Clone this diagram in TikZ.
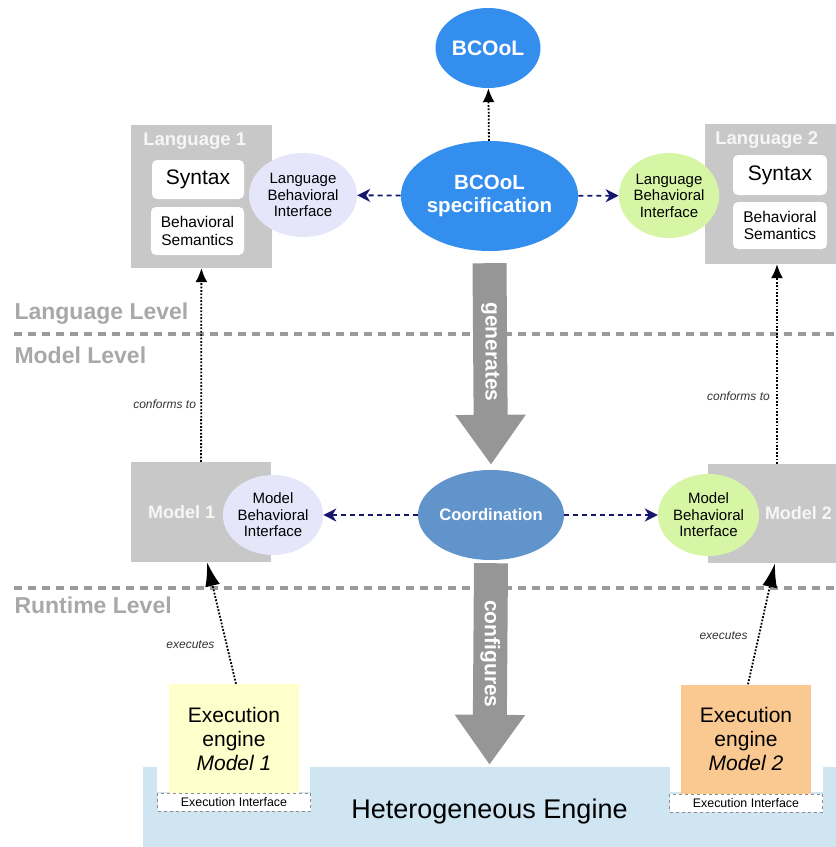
\documentclass[tikz,border=0pt]{standalone}
\usepackage{fontspec}
\setmainfont{Liberation Sans}
\usepackage{tikz}
\usetikzlibrary{positioning,shapes.geometric,arrows.meta}

\definecolor{boxgray}{RGB}{200,200,200}
\definecolor{titlegray}{RGB}{246,246,246}
\definecolor{levelgray}{RGB}{168,168,168}
\definecolor{linegray}{RGB}{155,155,155}
\definecolor{arrowgray}{RGB}{150,150,150}
\definecolor{lavender}{RGB}{230,230,250}
\definecolor{lightgreen}{RGB}{214,246,166}
\definecolor{bcoolblue}{RGB}{52,142,238}
\definecolor{coordblue}{RGB}{98,148,204}
\definecolor{navy}{RGB}{22,22,110}
\definecolor{engyellow}{RGB}{255,255,204}
\definecolor{engorange}{RGB}{250,200,145}
\definecolor{heteroblue}{RGB}{207,229,242}

\begin{document}
\begin{tikzpicture}[x=1pt, y=-1pt,
    graybox/.style={rectangle, fill=boxgray, inner sep=0pt},
    boxtitle/.style={text=titlegray, font=\fontsize{18.5}{20}\selectfont\bfseries},
    whitebox/.style={rectangle, fill=white, rounded corners=5pt, align=center, inner sep=0pt},
    oval/.style={ellipse, inner sep=0pt, align=center},
    ovaltext/.style={font=\fontsize{15}{16.5}\selectfont},
    bluedash/.style={-{Stealth[length=13pt,width=13pt,inset=4pt]}, navy, line width=1.8pt, dash pattern=on 5pt off 4pt},
    dotarrow/.style={-{Latex[length=14pt,width=12pt]}, black, line width=1.8pt, dash pattern=on 1.8pt off 1.6pt},
    exearrow/.style={dotarrow, -{Latex[length=24pt,width=15pt]}},
    bigarrow/.style={-{Triangle[width=67pt,length=50pt]}, arrowgray, line width=34pt},
    bigtext/.style={rotate=-90, text=white, font=\fontsize{21}{24}\selectfont\bfseries},
    leveltext/.style={anchor=west, text=levelgray, font=\fontsize{23}{26}\selectfont\bfseries},
    levelline/.style={linegray, line width=4pt, dash pattern=on 8pt off 6pt},
    smalltext/.style={text=black!80, font=\fontsize{12}{14}\selectfont\itshape},
    engine/.style={rectangle, minimum width=130pt, minimum height=109pt, inner sep=0pt, align=center, font=\fontsize{21}{24}\selectfont},
    ifacebox/.style={rectangle, draw=black!45, dashed, fill=white, minimum width=153pt, minimum height=18pt, inner sep=0pt, font=\fontsize{12.4}{14}\selectfont}]

    \useasboundingbox (0,0) rectangle (836,847);

    % levels
    \draw[levelline] (14,334) -- (836,334);
    \draw[levelline] (14,588) -- (836,588);
    \node[leveltext] (langlevel) at (11,314) {Language Level};
    \node[leveltext] (modellevel) at (11,355) {Model Level};
    \node[leveltext] (runlevel) at (11,605) {Runtime Level};

    % BCOoL
    \node[oval, fill=bcoolblue, minimum width=105pt, minimum height=80pt, text=white, font=\fontsize{21}{24}\selectfont\bfseries] (bcool) at (488,48) {BCOoL};
    \node[oval, fill=bcoolblue, minimum width=151pt, minimum height=110pt, text=white, font=\fontsize{20.5}{23}\selectfont\bfseries] (spec) at (489.5,196) {BCOoL\\specification};

    % languages
    \node[graybox, minimum width=141pt, minimum height=143pt] (lang1) at (201.5,196.5) {};
    \node[boxtitle] (lang1title) at (194.7,141) {Language 1};
    \node[whitebox, minimum width=92pt, minimum height=39pt, font=\fontsize{21}{24}\selectfont] (syntax1) at (198,179.5) {Syntax};
    \node[whitebox, minimum width=93pt, minimum height=48pt, font=\fontsize{15.5}{17.5}\selectfont] (sem1) at (197.5,231) {Behavioral\\Semantics};
    \node[oval, ovaltext, fill=lavender, minimum width=108pt, minimum height=84pt] (lbi1) at (303,195) {Language\\Behavioral\\Interface};

    \node[graybox, minimum width=144pt, minimum height=140pt] (lang2) at (777,194) {};
    \node[boxtitle] (lang2title) at (766.7,140) {Language 2};
    \node[whitebox, minimum width=94pt, minimum height=40pt, font=\fontsize{21}{24}\selectfont] (syntax2) at (780,175) {Syntax};
    \node[whitebox, minimum width=94pt, minimum height=47pt, font=\fontsize{15.5}{17.5}\selectfont] (sem2) at (780,225.5) {Behavioral\\Semantics};
    \node[oval, ovaltext, fill=lightgreen, minimum width=92pt, minimum height=85pt] (lbi2) at (669,195.5) {Language\\Behavioral\\Interface};

    % models
    \node[oval, fill=coordblue, minimum width=126pt, minimum height=90pt, text=white, font=\fontsize{16.6}{18}\selectfont\bfseries] (coord) at (491,515) {Coordination};

    \node[graybox, minimum width=140pt, minimum height=100pt] (model1) at (201,512) {};
    \node[boxtitle, font=\fontsize{18}{20}\selectfont\bfseries] (model1title) at (181.7,512) {Model 1};
    \node[oval, ovaltext, fill=lavender, minimum width=100pt, minimum height=80pt] (mbi1) at (273,515) {Model\\Behavioral\\Interface};

    \node[graybox, minimum width=138pt, minimum height=99pt] (model2) at (777,513.5) {};
    \node[boxtitle, font=\fontsize{18}{20}\selectfont\bfseries] (model2title) at (798.5,513) {Model 2};
    \node[oval, ovaltext, fill=lightgreen, minimum width=101pt, minimum height=82pt] (mbi2) at (708.5,515) {Model\\Behavioral\\Interface};

    % runtime
    \node[rectangle, fill=heteroblue, minimum width=693pt, minimum height=80pt, inner sep=0pt, text height=28pt, text depth=6pt, font=\fontsize{27}{30}\selectfont] (hetero) at (489.5,807) {Heterogeneous Engine};
    \fill[white] (157,765) rectangle (310,792);
    \fill[white] (670,765) rectangle (823,792);
    \node[engine, fill=engyellow] (exe1) at (234,738.5) {Execution\\engine\\\textit{Model 1}};
    \node[engine, fill=engorange] (exe2) at (746,739) {Execution\\engine\\\textit{Model 2}};
    \node[ifacebox, below=0pt of exe1] (iface1) {Execution Interface};
    \node[ifacebox, below=0pt of exe2] (iface2) {Execution Interface};

    % connectors
    \draw[dotarrow] (spec) -- (bcool);
    \draw[bluedash] (spec) -- (lbi1);
    \draw[bluedash] (spec) -- (lbi2);
    \draw[bluedash] (coord) -- (mbi1);
    \draw[bluedash] (coord) -- (mbi2);
    \draw[dotarrow] (model1) -- (lang1) node[smalltext, pos=0.3, left=1pt] {conforms to};
    \draw[dotarrow] (model2) -- (lang2) node[smalltext, pos=0.34, left=3pt] {conforms to};
    \draw[exearrow] ([xshift=2pt]exe1.north) -- ([xshift=6pt]model1.south) node[smalltext, pos=0.32, left=8pt] {executes};
    \draw[exearrow] ([xshift=2pt]exe2.north) -- ([xshift=-2pt]model2.south) node[smalltext, pos=0.4, left=7pt] {executes};
    \draw[bigarrow] ([yshift=-12pt]spec.south) -- ([yshift=5pt]coord.north) node[bigtext, pos=0.44] (gentext) {generates};
    \draw[bigarrow] ([yshift=-3pt]coord.south) -- ([yshift=2pt]hetero.north) node[bigtext, pos=0.45] (conftext) {configures};
\end{tikzpicture}
\end{document}
